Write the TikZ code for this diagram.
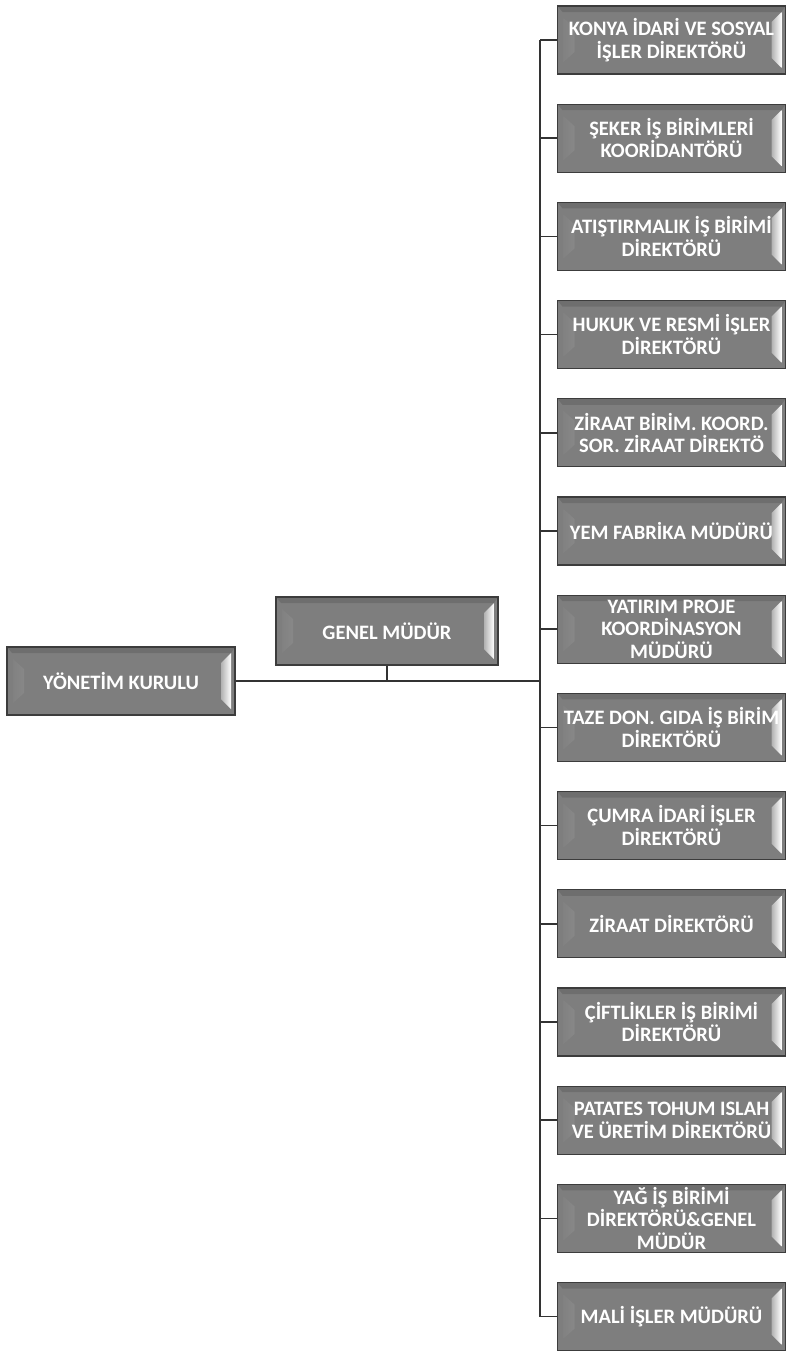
\documentclass[tikz,border=0pt]{standalone}
\usepackage{fontspec}
\setmainfont{Carlito}
\usetikzlibrary{calc}
\definecolor{boxgray}{HTML}{7E7E7E}
\definecolor{boxedge}{HTML}{3C3C3C}
\definecolor{linegray}{HTML}{333333}
\begin{document}
\begin{tikzpicture}[x=1pt,y=-1pt,
  orgbox/.style={rectangle, minimum width=228pt, minimum height=68pt, inner sep=0pt,
    fill=boxgray, draw=boxedge, line width=1.3pt, text=white, align=center,
    font=\bfseries\fontsize{20.5}{22.5}\selectfont,
    path picture={
      \shade[left color=boxgray, right color=white]
        ($(path picture bounding box.north west)+(6,12)$) --
        ($(path picture bounding box.north west)+(17,22)$) --
        ($(path picture bounding box.south west)+(17,-22)$) --
        ($(path picture bounding box.south west)+(6,-12)$) -- cycle;
      \shade[left color=boxgray!60!white, right color=white]
        ($(path picture bounding box.north east)+(-4,6)$) --
        ($(path picture bounding box.north east)+(-14,16)$) --
        ($(path picture bounding box.south east)+(-14,-16)$) --
        ($(path picture bounding box.south east)+(-4,-6)$) -- cycle;
      \fill[black, opacity=0.12]
        (path picture bounding box.north west) --
        (path picture bounding box.north east) --
        ($(path picture bounding box.north east)+(-4,6)$) --
        ($(path picture bounding box.north west)+(5,6)$) -- cycle;
    }},
  conn/.style={draw=linegray, line width=1.5pt}]
\useasboundingbox (0,0) rectangle (789,1355);
\coordinate (tx) at (540,0);

\node[orgbox] (yk) at (121,681) {YÖNETİM KURULU};
\node[orgbox, minimum width=222pt] (gm) at (387,631) {GENEL MÜDÜR};

\node[orgbox] (r1)  at (671.5,  40.0) {KONYA İDARİ VE SOSYAL\\İŞLER DİREKTÖRÜ};
\node[orgbox] (r2)  at (671.5, 138.2) {ŞEKER İŞ BİRİMLERİ\\KOORİDANTÖRÜ};
\node[orgbox] (r3)  at (671.5, 236.4) {ATIŞTIRMALIK İŞ BİRİMİ\\DİREKTÖRÜ};
\node[orgbox] (r4)  at (671.5, 334.6) {HUKUK VE RESMİ İŞLER\\DİREKTÖRÜ};
\node[orgbox] (r5)  at (671.5, 432.8) {ZİRAAT BİRİM. KOORD.\\SOR. ZİRAAT DİREKTÖ};
\node[orgbox] (r6)  at (671.5, 531.0) {YEM FABRİKA MÜDÜRÜ};
\node[orgbox] (r7)  at (671.5, 629.2) {YATIRIM PROJE\\KOORDİNASYON\\MÜDÜRÜ};
\node[orgbox] (r8)  at (671.5, 727.4) {TAZE DON. GIDA İŞ BİRİM\\DİREKTÖRÜ};
\node[orgbox] (r9)  at (671.5, 825.6) {ÇUMRA İDARİ İŞLER\\DİREKTÖRÜ};
\node[orgbox] (r10) at (671.5, 923.8) {ZİRAAT DİREKTÖRÜ};
\node[orgbox] (r11) at (671.5,1022.0) {ÇİFTLİKLER İŞ BİRİMİ\\DİREKTÖRÜ};
\node[orgbox] (r12) at (671.5,1120.2) {PATATES TOHUM ISLAH\\VE ÜRETİM DİREKTÖRÜ};
\node[orgbox] (r13) at (671.5,1218.4) {YAĞ İŞ BİRİMİ\\DİREKTÖRÜ\&GENEL\\MÜDÜR};
\node[orgbox] (r14) at (671.5,1316.6) {MALİ İŞLER MÜDÜRÜ};

\draw[conn] (yk.east) -- (yk.east -| tx);
\draw[conn] (gm.south) -- (gm.south |- yk.east);
\draw[conn] (r1.west -| tx) -- (r14.west -| tx);
\foreach \i in {1,...,14} {
  \draw[conn] (r\i.west) -- (r\i.west -| tx);
}
\end{tikzpicture}
\end{document}
